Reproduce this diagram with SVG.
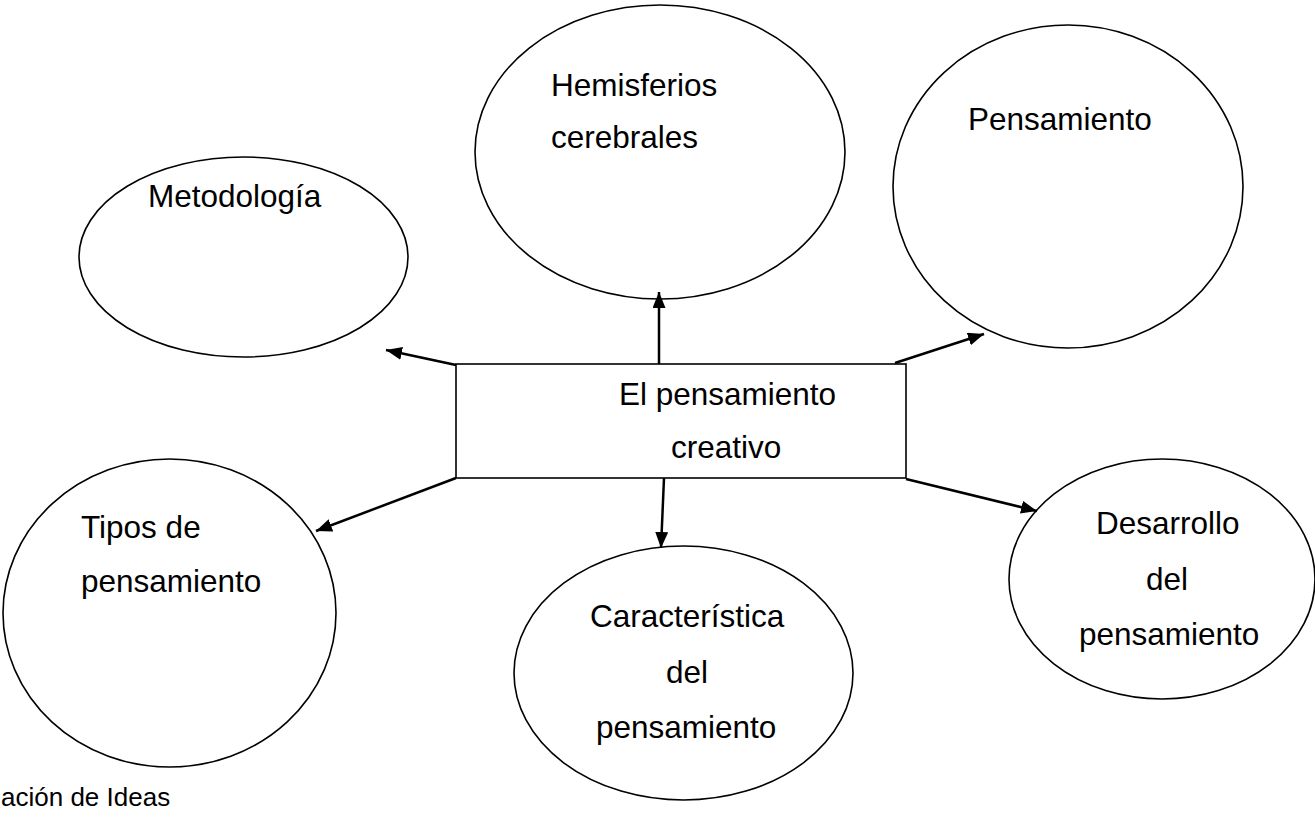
<svg xmlns="http://www.w3.org/2000/svg" width="1315" height="820" viewBox="0 0 1315 820">
<style>
.shape{fill:#fff;stroke:#000;stroke-width:1.6}
.lbl{font-family:"Liberation Sans",Arial,sans-serif;font-size:31.5px;fill:#000}
.conn line{stroke:#000;stroke-width:2.5}
</style>
<defs>
<marker id="ah" markerUnits="userSpaceOnUse" markerWidth="18" markerHeight="14" refX="16" refY="6.5" orient="auto">
<path d="M0,0 L16,6.5 L0,13 z" fill="#000"/>
</marker>
</defs>
<rect width="1315" height="820" fill="#fff"/>
<g id="n-metodologia">
<ellipse class="shape" cx="243.5" cy="257" rx="164.5" ry="100"/>
<text class="lbl" x="148" y="207">Metodología</text>
</g>
<g id="n-hemisferios">
<ellipse class="shape" cx="660" cy="152" rx="185" ry="147"/>
<text class="lbl" x="551" y="96">Hemisferios</text>
<text class="lbl" x="551" y="148">cerebrales</text>
</g>
<g id="n-pensamiento">
<ellipse class="shape" cx="1068" cy="186.5" rx="175" ry="161.5"/>
<text class="lbl" x="968" y="130">Pensamiento</text>
</g>
<g id="n-tipos">
<ellipse class="shape" cx="169.5" cy="613" rx="166.5" ry="154"/>
<text class="lbl" x="81" y="538">Tipos de</text>
<text class="lbl" x="81" y="592">pensamiento</text>
</g>
<g id="n-caracteristica">
<ellipse class="shape" cx="683.5" cy="673" rx="169.5" ry="127"/>
<text class="lbl" x="590" y="627">Característica</text>
<text class="lbl" x="666" y="683">del</text>
<text class="lbl" x="596" y="738">pensamiento</text>
</g>
<g id="n-desarrollo">
<ellipse class="shape" cx="1162" cy="579" rx="153" ry="120"/>
<text class="lbl" x="1096" y="534">Desarrollo</text>
<text class="lbl" x="1146" y="590">del</text>
<text class="lbl" x="1079" y="645">pensamiento</text>
</g>
<g id="n-centro">
<rect class="shape" x="456" y="364" width="450" height="114"/>
<text class="lbl" x="619" y="405">El pensamiento</text>
<text class="lbl" x="671" y="458">creativo</text>
</g>
<g id="connectors" class="conn">
<line x1="456" y1="365" x2="386" y2="350" marker-end="url(#ah)"/>
<line x1="659" y1="364" x2="659" y2="292" marker-end="url(#ah)"/>
<line x1="895" y1="363" x2="984" y2="334" marker-end="url(#ah)"/>
<line x1="456" y1="478" x2="316" y2="531" marker-end="url(#ah)"/>
<line x1="664" y1="478" x2="661" y2="548" marker-end="url(#ah)"/>
<line x1="906" y1="479" x2="1037" y2="511" marker-end="url(#ah)"/>
</g>
<text class="lbl" x="1" y="806" style="font-size:26px">ación de Ideas</text>
</svg>
